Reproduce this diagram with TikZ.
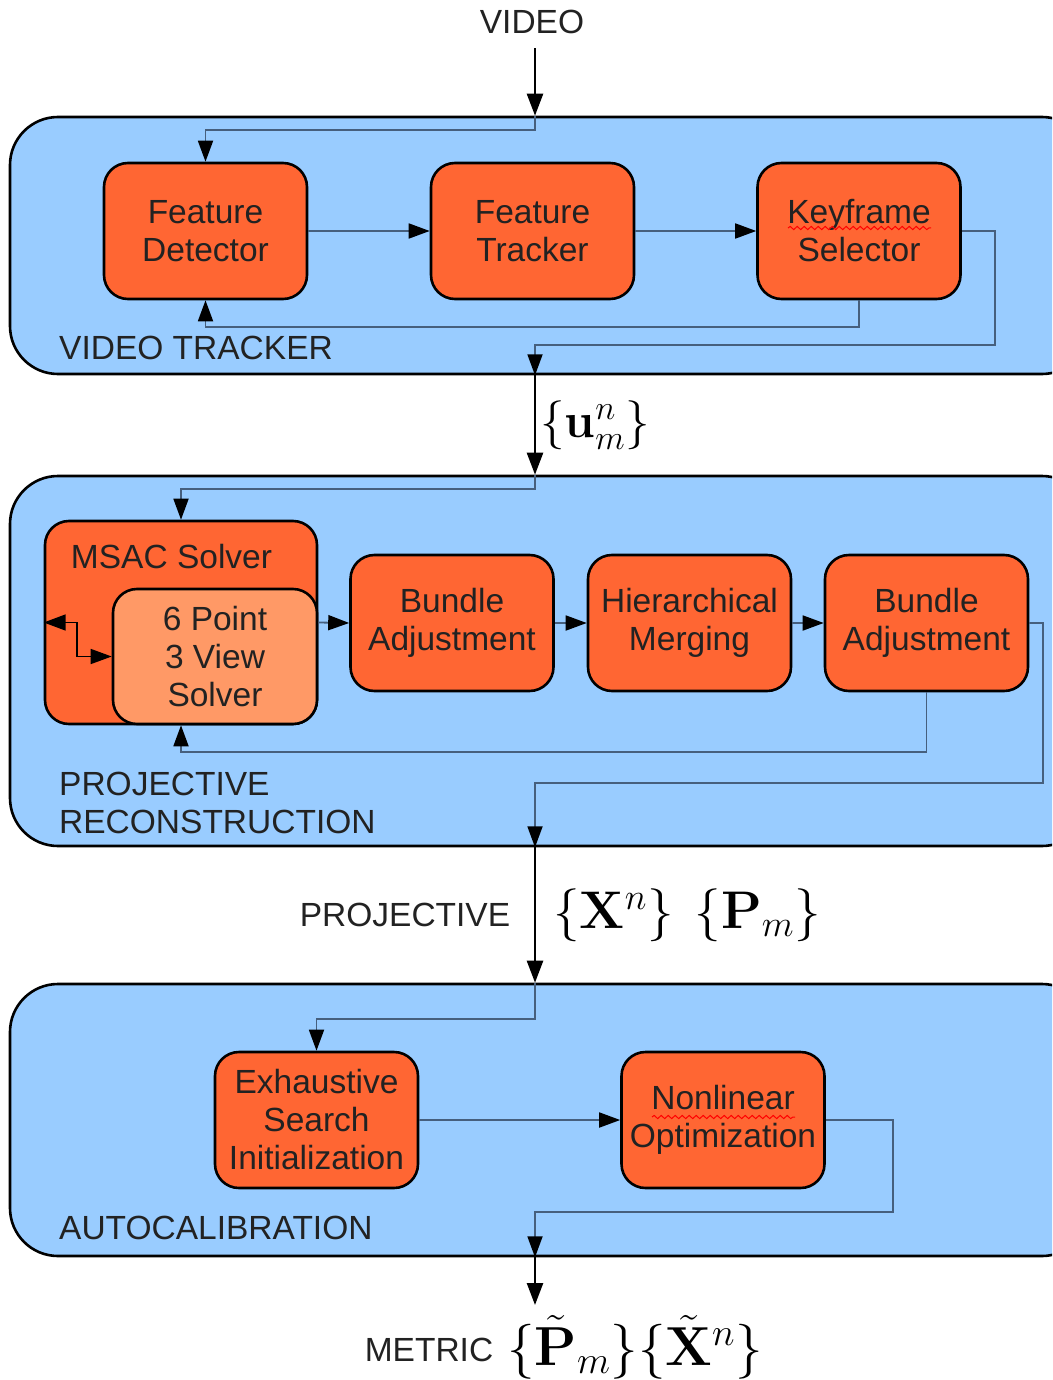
\RequirePackage{fix-cm}
\documentclass[tikz,border=0pt]{standalone}
\usepackage[no-math]{fontspec}
\setmainfont{Liberation Sans}
\usetikzlibrary{arrows.meta,decorations.pathmorphing}
\definecolor{panelblue}{RGB}{153,204,255}
\definecolor{boxorange}{RGB}{255,102,51}
\definecolor{lightorange}{RGB}{255,153,102}
\definecolor{linkcol}{RGB}{70,95,125}
\definecolor{textgray}{RGB}{34,34,34}
\begin{document}
\begin{tikzpicture}[x=1pt,y=-1pt,
  txt/.style={font=\fontsize{33.5}{38}\selectfont, text=textgray, align=center, inner sep=0pt},
  mathlbl/.style={font=\fontsize{53}{60}\selectfont, text=black, inner sep=0pt},
  panel/.style={draw=black, line width=2.6pt, fill=panelblue, rounded corners=48pt, minimum width=1080pt},
  box/.style={txt, draw=black, line width=2.6pt, fill=boxorange, rounded corners=24pt, minimum width=203pt, minimum height=136pt},
  link/.style={draw=linkcol, line width=1.8pt, -{Triangle[length=21pt,width=15pt,color=black]}},
  mainarr/.style={draw=black, line width=2.5pt, -{Triangle[length=22pt,width=16pt]}},
  blk/.style={draw=black, line width=1.6pt, {Triangle[length=22pt,width=16pt]}-{Triangle[length=21pt,width=15pt]}},
  spell/.style={draw=red, line width=1pt, decorate, decoration={snake, amplitude=1.6pt, segment length=7pt}}
]
\useasboundingbox (0,0) rectangle (1052,1380);
\clip (0,0) rectangle (1052,1380);

% text above
\node[txt] (video) at (532,22) {VIDEO};
\coordinate (spine) at (535,0);

% panel 1
\node[panel, minimum height=257pt] (p1) at (550,245.5) {};
\node[box] (fd) at (205.5,231) {Feature\\Detector};
\node[box] (ft) at (532.5,231) {Feature\\Tracker};
\node[box] (ks) at (859,231) {Keyframe\\Selector};
\node[txt, anchor=west] (vtl) at (59,348) {VIDEO TRACKER};

% panel 2
\node[panel, minimum height=370pt] (p2) at (550,661) {};
\node[box, minimum width=272pt, minimum height=203pt] (msac) at (181,622.5) {};
\node[txt] (msact) at (171.5,557) {MSAC Solver};
\node[box, fill=lightorange, minimum width=204pt, minimum height=135pt] (six) at (215,656.5) {6 Point\\3 View\\Solver};
\node[box] (ba1) at (452,623) {Bundle\\Adjustment};
\node[box] (hm) at (689.5,623) {Hierarchical\\Merging};
\node[box] (ba2) at (926.5,623) {Bundle\\Adjustment};
\node[txt, anchor=west, align=left] (prl) at (59,803) {PROJECTIVE\\RECONSTRUCTION};

% panel 3
\node[panel, minimum height=272pt] (p3) at (550,1120) {};
\node[box] (esi) at (316.5,1120) {Exhaustive\\Search\\Initialization};
\node[box] (no) at (723,1120) {Nonlinear\\Optimization};
\node[txt, anchor=west] (acl) at (59,1228) {AUTOCALIBRATION};

% spelling marks
\draw[spell] (788,228) -- (931,228);
\draw[spell] (652,1117) -- (795,1117);

% labels between panels
\node[mathlbl, anchor=west, font=\fontsize{49}{56}\selectfont] (um) at (540,425) {$\{\mathbf{u}_m^n\}$};
\node[txt] (projl) at (405,915) {PROJECTIVE};
\node[mathlbl] (xp) at (687,915) {$\{\mathbf{X}^n\}\hspace{0.4em}\{\mathbf{P}_m\}$};
\node[txt] (metl) at (429,1350) {METRIC};
\node[mathlbl, font=\fontsize{55}{62}\selectfont] (met) at (635,1347) {$\{\tilde{\mathbf{P}}_m\}\{\tilde{\mathbf{X}}^n\}$};
\coordinate (out) at (535,1305);

% connectors
\draw[mainarr, shorten <=14pt] (spine |- video.south) -- (spine |- p1.north);
\draw[link] (spine |- p1.north) -- (535,130) -| (fd.north);
\draw[link] (fd.east) -- (ft.west);
\draw[link] (ft.east) -- (ks.west);
\draw[link] (ks.south) -- (859,327) -| (fd.south);
\draw[link] (ks.east) -| (995,345) -| (spine |- p1.south);

\draw[mainarr] (spine |- p1.south) -- (spine |- p2.north);
\draw[link] (spine |- p2.north) -- (535,489) -| (msac.north);
\draw[blk] (msac.west) -- (77,622.5) |- (six.west);
\draw[link] (msac.east) -- (ba1.west);
\draw[link] (ba1.east) -- (hm.west);
\draw[link] (hm.east) -- (ba2.west);
\draw[link] (ba2.south) -- (926.5,752) -| (msac.south);
\draw[link] (ba2.east) -| (1043,783) -| (spine |- p2.south);

\draw[mainarr] (spine |- p2.south) -- (spine |- p3.north);
\draw[link] (spine |- p3.north) -- (535,1019) -| (esi.north);
\draw[link] (esi.east) -- (no.west);
\draw[link] (no.east) -| (893,1212) -| (spine |- p3.south);
\draw[mainarr] (spine |- p3.south) -- (out);
\end{tikzpicture}
\end{document}
